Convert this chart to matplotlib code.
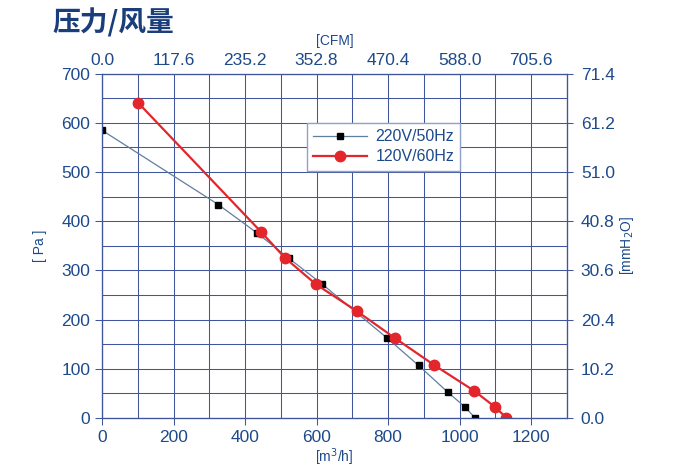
import numpy as np
import matplotlib.pyplot as plt
from matplotlib.ticker import MultipleLocator

plt.rcParams['font.family'] = ['Liberation Sans', 'Noto Sans CJK SC', 'DejaVu Sans']

# data
flow_220 = [0, 325, 432, 522, 616, 798, 885, 966, 1014, 1042]
pa_220 = [585, 434, 377, 325, 272, 162, 107, 53, 23, 1]
flow_120 = [101, 444, 511, 598, 713, 818, 928, 1041, 1098, 1130]
pa_120 = [641, 379, 326, 272, 217, 163, 108, 55, 23, 1]

flow_ticks = [0, 200, 400, 600, 800, 1000, 1200]
cfm_labels = ['0.0', '117.6', '235.2', '352.8', '470.4', '588.0', '705.6']
pa_ticks = [0, 100, 200, 300, 400, 500, 600, 700]
mmh2o_labels = ['0.0', '10.2', '20.4', '30.6', '40.8', '51.0', '61.2', '71.4']

navy = '#1d4a8a'
gridc = '#40569c'
fs = 12.5

fig = plt.figure(figsize=(6.79, 4.70), dpi=100)
ax = fig.add_axes([0.1502, 0.1106, 0.6848, 0.7326])

ax.plot(flow_220, pa_220, color='#5f7f9f', lw=0.9, marker='s', ms=5,
        mfc='black', mec='black', label='220V/50Hz', zorder=3)
ax.plot(flow_120, pa_120, color='#e3262b', lw=1.6, marker='o', ms=7.5,
        mfc='#e3262b', mec='#e3262b', label='120V/60Hz', zorder=4)

ax.set_xlim(0, 1300)
ax.set_ylim(0, 700)
ax.set_xticks(flow_ticks)
ax.set_yticks(pa_ticks)
ax.xaxis.set_minor_locator(MultipleLocator(100))
ax.yaxis.set_minor_locator(MultipleLocator(50))
ax.grid(which='both', color=gridc, lw=0.75)
ax.set_axisbelow(True)
for s in ax.spines.values():
    s.set_color(gridc)
    s.set_linewidth(0.8)
ax.tick_params(which='both', colors=gridc, labelcolor=navy, labelsize=fs, length=5, width=0.75)
ax.tick_params(which='minor', length=0)
ax.set_xlabel('[m$^3$/h]', color=navy, fontsize=10, labelpad=1)
ax.set_ylabel('[ Pa ]', color=navy, fontsize=10, labelpad=10)

ax_top = ax.twiny()
ax_top.set_xlim(ax.get_xlim())
ax_top.set_xticks(flow_ticks)
ax_top.set_xticklabels(cfm_labels)
ax_top.tick_params(colors=gridc, labelcolor=navy, labelsize=fs, length=0, pad=4)
ax_top.set_xlabel('[CFM]', color=navy, fontsize=10, labelpad=6)

ax_r = ax.twinx()
ax_r.set_ylim(ax.get_ylim())
ax_r.set_yticks(pa_ticks)
ax_r.set_yticklabels(mmh2o_labels)
ax_r.tick_params(colors=gridc, labelcolor=navy, labelsize=fs, length=4, width=0.75, pad=6)
ax_r.set_ylabel('[mmH$_2$O]', color=navy, fontsize=10, labelpad=2)
for a in (ax_top, ax_r):
    for s in a.spines.values():
        s.set_color(gridc)
        s.set_linewidth(0.8)

leg = ax.legend(loc='upper left', bbox_to_anchor=(0.44, 0.857), fontsize=11.5,
                fancybox=False, framealpha=1, edgecolor='#8fa3c8', borderaxespad=0,
                handlelength=3.4, borderpad=0.4, labelspacing=0.3, handletextpad=0.5)
for t in leg.get_texts():
    t.set_color(navy)

fig.text(0.077, 0.952, '压力/风量', fontsize=20, fontweight='bold', color='#1a3d7c',
         va='center', ha='left', family=['Noto Sans CJK SC', 'DejaVu Sans'])

plt.savefig('out.png', dpi=100)
